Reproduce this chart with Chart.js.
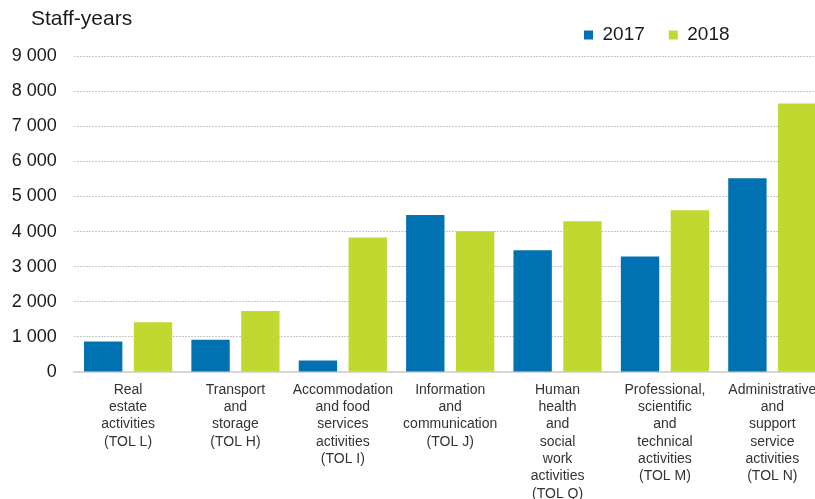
<!DOCTYPE html>
<html>
<head>
<meta charset="utf-8">
<script src="https://cdn.jsdelivr.net/npm/chart.js@4"></script>
<style>
html,body{margin:0;padding:0;overflow:hidden;background:#fff;}
#wrap{position:relative;width:826px;height:499px;}
</style>
</head>
<body>
<div id="wrap"><canvas id="c"></canvas></div>
<script>
const categories = [
  ['Real','estate','activities','(TOL L)'],
  ['Transport','and','storage','(TOL H)'],
  ['Accommodation','and food','services','activities','(TOL I)'],
  ['Information','and','communication','(TOL J)'],
  ['Human','health','and','social','work','activities','(TOL Q)'],
  ['Professional,','scientific','and','technical','activities','(TOL M)'],
  ['Administrative','and','support','service','activities','(TOL N)']
];
const seriesNames = ['2017', '2018'];
const values2017 = [870, 920, 330, 4470, 3470, 3290, 5520];
const values2018 = [1420, 1740, 3830, 4010, 4290, 4610, 7650];
const yTicks = [0, 1000, 2000, 3000, 4000, 5000, 6000, 7000, 8000, 9000];
const yTitle = 'Staff-years';

const FONT = "'Liberation Sans', Arial, sans-serif";
const fmt = v => String(v).replace(/\B(?=(\d{3})+(?!\d))/g, ' ');

const titlePlugin = {
  id: 'yTitle',
  afterDraw(chart) {
    const ctx = chart.ctx;
    ctx.save();
    ctx.font = '21px ' + FONT;
    ctx.fillStyle = '#1a1a1a';
    ctx.textBaseline = 'alphabetic';
    ctx.textAlign = 'left';
    ctx.fillText(yTitle, 31, 24.5);
    ctx.restore();
  }
};

const legendFix = {
  id: 'legendFix',
  beforeLayout(chart) {
    const lg = chart.legend;
    if (lg && !lg._patched) {
      const f = lg.fit;
      lg.fit = function() { f.call(this); this.height = 54.5; };
      lg._patched = true;
    }
  },
  afterLayout(chart) {
    const lg = chart.legend;
    if (lg && lg.lineWidths) lg.lineWidths[0] = lg.right - 584;
  }
};

new Chart(document.getElementById('c'), {
  type: 'bar',
  data: {
    labels: categories,
    datasets: [
      { label: seriesNames[0], data: values2017, backgroundColor: '#0072B1', categoryPercentage: 0.928, barPercentage: 0.77 },
      { label: seriesNames[1], data: values2018, backgroundColor: '#C1D830', categoryPercentage: 0.928, barPercentage: 0.77 }
    ]
  },
  options: {
    responsive: true,
    maintainAspectRatio: false,
    animation: false,
    layout: { padding: { top: 1.5, left: 0, right: 0, bottom: 0 } },
    plugins: {
      legend: {
        position: 'top',
        align: 'end',
        labels: {
          boxWidth: 9, boxHeight: 9, padding: 24,
          color: '#1a1a1a',
          font: { family: FONT, size: 19 }
        }
      },
      tooltip: { enabled: false }
    },
    scales: {
      x: {
        grid: { display: false, drawTicks: false },
        border: { display: true, color: '#d6d6d6', width: 2 },
        ticks: {
          color: '#333',
          font: { family: FONT, size: 14, lineHeight: 1.24 },
          padding: 9,
          maxRotation: 0, minRotation: 0, autoSkip: false
        },
        afterFit(s) { s.height = 127; }
      },
      y: {
        min: 0, max: 9000,
        afterBuildTicks(s) { s.ticks = yTicks.map(v => ({ value: v })); },
        grid: {
          drawTicks: false,
          color: c => (c.tick && c.tick.value === 0) ? 'rgba(0,0,0,0)' : '#c8c8c8',
          lineWidth: 1
        },
        border: { display: false, dash: [2, 1] },
        ticks: {
          color: '#1a1a1a',
          font: { family: FONT, size: 18 },
          padding: 17.7,
          callback: v => fmt(v)
        },
        afterFit(s) { s.width = 74.4; }
      }
    }
  },
  plugins: [titlePlugin, legendFix]
});
</script>
</body>
</html>
